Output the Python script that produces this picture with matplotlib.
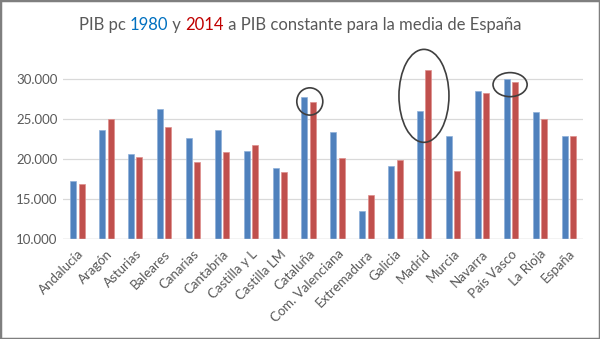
import matplotlib
matplotlib.use("Agg")
import matplotlib.pyplot as plt
from matplotlib.patches import Ellipse, Rectangle
import numpy as np

regiones = ["Andalucía", "Aragón", "Asturias", "Baleares", "Canarias", "Cantabria",
            "Castilla y L", "Castilla LM", "Cataluña", "Com. Valenciana", "Extremadura",
            "Galicia", "Madrid", "Murcia", "Navarra", "País Vasco", "La Rioja", "España"]
pib_1980 = [17300, 23700, 20600, 26250, 22600, 23700, 21050, 18900, 27700, 23450,
            13500, 19100, 26050, 22900, 28550, 30000, 25900, 22900]
pib_2014 = [16900, 25000, 20300, 24000, 19600, 20900, 21750, 18400, 27100, 20200,
            15550, 19950, 31100, 18550, 28200, 29650, 25000, 22900]
y_ticks = [10000, 15000, 20000, 25000, 30000]
y_labels = ["10.000", "15.000", "20.000", "25.000", "30.000"]

# highlighted regions: (category index offset, centre value, width in categories, height in values)
destacados = [("Cataluña", 0.04, 27200, 0.90, 3400),
              ("Madrid", -0.01, 27900, 1.73, 11600),
              ("País Vasco", -0.03, 29300, 1.18, 3000)]

AZUL = "#4F81BD"
ROJO = "#C0504D"
GRIS = "#595959"
plt.rcParams["font.family"] = ["Lato", "DejaVu Sans"]

fig = plt.figure(figsize=(6.0, 3.39), dpi=100)
ax = fig.add_axes([0.105, 0.294, 0.867, 0.532])

x = np.arange(len(regiones))
w = 0.21
ax.bar(x - 0.145, pib_1980, width=w, color=AZUL, edgecolor="#8EB0DA", linewidth=0.5, zorder=3)
ax.bar(x + 0.145, pib_2014, width=w, color=ROJO, edgecolor="#DE8E8C", linewidth=0.5, zorder=3)

ax.set_xlim(-0.5, len(regiones) - 0.5)
ax.set_ylim(10000, 32500)
ax.set_yticks(y_ticks)
ax.set_yticklabels(y_labels, fontsize=9.5, color=GRIS)
ax.set_xticks(x)
ax.set_xticklabels(regiones, rotation=45, ha="right", va="top", rotation_mode="anchor",
                   fontsize=9.5, color=GRIS)
ax.tick_params(axis="both", length=0, pad=4)
ax.tick_params(axis="x", pad=6)
ax.yaxis.grid(True, color="#D9D9D9", linewidth=0.9, zorder=0)
for s in ax.spines.values():
    s.set_visible(False)
ax.axhline(10000, color="#D9D9D9", linewidth=1.0, zorder=4)

for nombre, dx, yc, ew, eh in destacados:
    i = regiones.index(nombre)
    ax.add_patch(Ellipse((i + dx, yc), ew, eh, fill=False, edgecolor="#3F3F3F",
                         linewidth=1.2, zorder=5, clip_on=False))

# multicoloured title
partes = [("PIB pc ", GRIS), ("1980", "#0070C0"), (" y ", GRIS), ("2014", "#C00000"),
          (" a PIB constante para la media de España", GRIS)]
renderer = fig.canvas.get_renderer()
textos = []
for txt, col in partes:
    t = fig.text(0, 0.926, txt, color=col, fontsize=12, ha="left", va="center")
    textos.append(t)
anchos = [t.get_window_extent(renderer).width for t in textos]
total = sum(anchos)
x0 = (fig.bbox.width - total) / 2
for t, a in zip(textos, anchos):
    t.set_x(x0 / fig.bbox.width)
    x0 += a

fig.add_artist(Rectangle((0, 0), 1, 1, transform=fig.transFigure, fill=False,
                         edgecolor="#7F7F7F", linewidth=2.5))

fig.savefig("out.png", dpi=100)
